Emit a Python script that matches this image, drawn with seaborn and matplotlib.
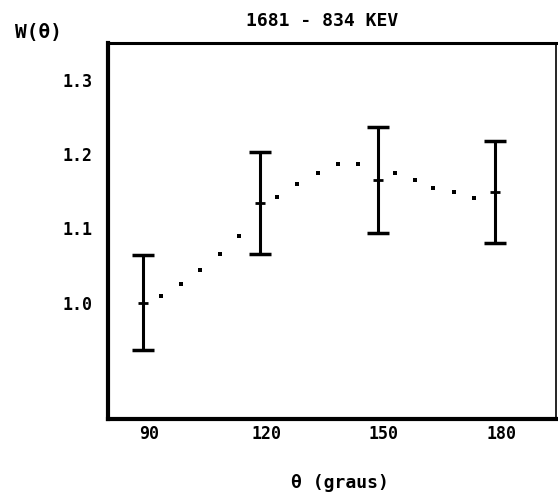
import matplotlib
matplotlib.use("Agg")
import matplotlib.pyplot as plt
import matplotlib.transforms as mtransforms
import seaborn as sns
import pandas as pd

# Measured points
angles = [90, 120, 150, 180]
w_values = [1.000, 1.134, 1.165, 1.149]
w_errors = [0.064, 0.069, 0.071, 0.069]

# Dotted fit curve
fit_angles = [94.7, 99.8, 104.6, 109.6, 114.4, 124.1, 129.3, 134.6, 139.7,
              144.8, 154.5, 159.6, 164.2, 169.4, 174.5]
fit_values = [1.009, 1.025, 1.044, 1.065, 1.090, 1.142, 1.160, 1.174, 1.186,
              1.186, 1.175, 1.165, 1.154, 1.149, 1.141]

x_ticks = [90, 120, 150, 180]
y_ticks = [1.0, 1.1, 1.2, 1.3]
y_tick_labels = ["1.0", "1.1", "1.2", "1.3"]

sns.set_style("white")
plt.rcParams['font.family'] = ['DejaVu Sans Mono', 'DejaVu Sans']
plt.rcParams['text.color'] = 'black'
plt.rcParams['xtick.color'] = 'black'
plt.rcParams['ytick.color'] = 'black'

fig = plt.figure(figsize=(5.58, 4.99), dpi=100)
ax = fig.add_axes([0.194, 0.160, 0.803, 0.754])

fit_df = pd.DataFrame({"theta": fit_angles, "W": fit_values})
sns.scatterplot(data=fit_df, x="theta", y="W", ax=ax, marker="s", s=6,
                color="black", edgecolor="black", linewidth=0, zorder=2)

ax.errorbar(angles, w_values, yerr=w_errors, fmt="none", ecolor="black",
            elinewidth=2.2, capsize=8, capthick=2.5, zorder=3)
sns.scatterplot(x=angles, y=w_values, ax=ax, marker="_", s=60, color="black",
                linewidth=2, zorder=4)

ax.set_xlim(81.1, 195.6)
ax.set_ylim(0.843, 1.3495)
ax.set_xticks(x_ticks)
ax.set_xticklabels([str(t) for t in x_ticks], fontsize=12, fontweight="bold")
ax.set_yticks(y_ticks)
ax.set_yticklabels(y_tick_labels, fontsize=12, fontweight="bold")
ax.tick_params(axis="both", direction="in", length=5, width=1.5,
               color="black", labelcolor="black", pad=4)
ax.tick_params(axis="y", pad=11)

# shift x tick labels slightly right, as in the reference
offset = mtransforms.ScaledTranslation(6 / 100, 0, fig.dpi_scale_trans)
for lbl in ax.get_xticklabels():
    lbl.set_transform(lbl.get_transform() + offset)

for side, lw in [("left", 3.0), ("bottom", 3.0), ("top", 2.2), ("right", 1.2)]:
    ax.spines[side].set_visible(True)
    ax.spines[side].set_linewidth(lw)
    ax.spines[side].set_color("black")

ax.set_xlabel("")
ax.set_ylabel("")
fig.text(0.577, 0.957, "1681 - 834 KEV", ha="center", va="center",
         fontsize=13, fontweight="bold")
fig.text(0.027, 0.934, "W(θ)", ha="left", va="center", fontsize=14,
         fontweight="bold")
fig.text(0.609, 0.032, "θ (graus)", ha="center", va="center", fontsize=13,
         fontweight="bold")

fig.savefig("out.png", dpi=100)
